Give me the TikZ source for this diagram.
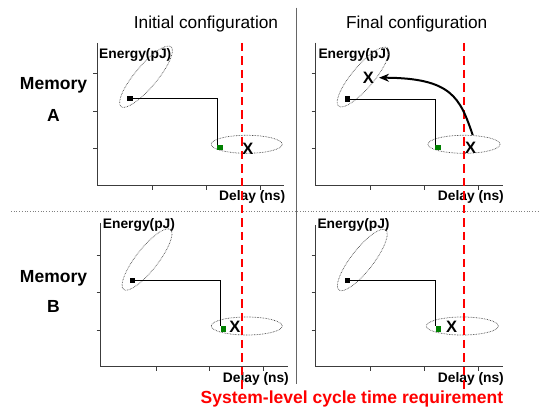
\documentclass[tikz,border=0pt]{standalone}
\usepackage{fontspec}
\setmainfont{Liberation Sans}
\usetikzlibrary{arrows.meta}
\definecolor{sqgreen}{RGB}{0,128,0}
\definecolor{reqred}{RGB}{255,0,0}
\definecolor{axisgray}{RGB}{60,60,60}
\tikzset{
  axisline/.style={draw=axisgray, line width=1.1pt},
  tickline/.style={draw=axisgray, line width=0.8pt},
  ell/.style={draw=gray!60!black, line width=0.7pt, dash pattern=on 0.7pt off 0.9pt},
  blacksq/.style={rectangle, fill=black, inner sep=0, minimum size=5.5pt},
  greensq/.style={rectangle, fill=sqgreen, inner sep=0, minimum size=5.5pt},
  steplink/.style={draw=black, line width=0.9pt},
  xmark/.style={inner sep=0, font=\fontsize{16.5}{16}\selectfont\bfseries},
  axlabel/.style={inner sep=0, anchor=base west, font=\fontsize{13.8}{14}\selectfont\bfseries},
  memlabel/.style={inner sep=0, anchor=base, font=\fontsize{17.5}{18}\selectfont\bfseries},
  title/.style={inner sep=0, anchor=base, font=\fontsize{17.3}{18}\selectfont},
  reqline/.style={draw=reqred, line width=2.2pt, dash pattern=on 8.5pt off 5pt},
  moveline/.style={draw=black, line width=2pt, -{Stealth[length=10pt,width=8pt]}}
}
\begin{document}
\begin{tikzpicture}[x=1pt,y=-1pt]
\useasboundingbox (0,0) rectangle (542,409);

% separators
\draw[draw=gray!80!black, line width=0.8pt] (296,7.6) -- (296,384);
\draw[draw=gray, dotted, line width=0.7pt] (11,211) -- (540,211);

% titles
\node[title] (t1) at (206,28.3) {Initial configuration};
\node[title] (t2) at (416.7,28.3) {Final configuration};

% memory labels
\node[memlabel] (ma1) at (53.5,89.3) {Memory};
\node[memlabel] (ma2) at (53.5,121.7) {A};
\node[memlabel] (mb1) at (53.5,282.7) {Memory};
\node[memlabel] (mb2) at (53.5,312.3) {B};

% ---------- top-left ----------
\draw[axisline] (97.3,43) -- (97.3,185.7) -- (284,185.7);
\foreach \yy in {73.3,111,148.3} \draw[tickline] (93.3,\yy) -- (97.3,\yy);
\foreach \xx in {152.3,206,260.3} \draw[tickline] (\xx,185.7) -- (\xx,189.7);
\node[axlabel] (e1) at (99,58.3) {Energy(pJ)};
\node[axlabel] (d1) at (219,200.7) {Delay (ns)};
\draw[ell, rotate around={50:(146,76.7)}] (146,76.7) ellipse [x radius=39pt, y radius=11pt];
\draw[ell] (246.7,144.3) ellipse [x radius=35.5pt, y radius=9pt];
\node[blacksq] (b1) at (130,98.7) {};
\node[greensq] (g1) at (220,147.5) {};
\draw[steplink] (b1.center) -| (g1.north west);
\node[xmark] (x1) at (248,148.7) {X};

% ---------- top-right ----------
\draw[axisline] (315.7,42.7) -- (315.7,185.7) -- (503,185.7);
\foreach \yy in {73.3,111,148.3} \draw[tickline] (311.7,\yy) -- (315.7,\yy);
\foreach \xx in {370.3,424.3,478.3} \draw[tickline] (\xx,185.7) -- (\xx,189.7);
\node[axlabel] (e2) at (318.3,58.3) {Energy(pJ)};
\node[axlabel] (d2) at (437.7,200.3) {Delay (ns)};
\draw[ell, rotate around={50:(363,77)}] (363,77) ellipse [x radius=38pt, y radius=11pt];
\draw[ell] (464,144.3) ellipse [x radius=36pt, y radius=9pt];
\node[blacksq] (b2) at (347.7,99) {};
\node[greensq] (g2) at (438,147.5) {};
\draw[steplink] (b2.center) -| (g2.north west);
\node[xmark] (x2) at (470.7,147.7) {X};
\node[xmark] (x2u) at (368.3,77.7) {X};

% ---------- bottom-left ----------
\draw[axisline] (100.7,223) -- (100.7,366.7) -- (288,366.7);
\foreach \yy in {255,292.7,330} \draw[tickline] (96.7,\yy) -- (100.7,\yy);
\foreach \xx in {156,209,263} \draw[tickline] (\xx,366.7) -- (\xx,370.7);
\node[axlabel] (e3) at (102.7,228.3) {Energy(pJ)};
\node[axlabel] (d3) at (222.7,382.3) {Delay (ns)};
\draw[ell, rotate around={52:(147,259.5)}] (147,259.5) ellipse [x radius=38pt, y radius=11pt];
\draw[ell] (246.7,326) ellipse [x radius=35.5pt, y radius=9pt];
\node[blacksq] (b3) at (132.3,280.3) {};
\node[greensq] (g3) at (223.3,329) {};
\draw[steplink] (b3.center) -| (g3.north west);
\node[xmark] (x3) at (235,327.3) {X};

% ---------- bottom-right ----------
\draw[axisline] (315.7,225) -- (315.7,366.7) -- (502.7,366.7);
\foreach \yy in {255,292.7,330} \draw[tickline] (311.7,\yy) -- (315.7,\yy);
\foreach \xx in {370.3,424.3,478.3} \draw[tickline] (\xx,366.7) -- (\xx,370.7);
\node[axlabel] (e4) at (317.3,228.3) {Energy(pJ)};
\node[axlabel] (d4) at (437.7,382.3) {Delay (ns)};
\draw[ell, rotate around={52:(362.3,260)}] (362.3,260) ellipse [x radius=38pt, y radius=11pt];
\draw[ell] (462.3,326) ellipse [x radius=36pt, y radius=9pt];
\node[blacksq] (b4) at (347.7,280.3) {};
\node[greensq] (g4) at (438.3,329) {};
\draw[steplink] (b4.center) -| (g4.north west);
\node[xmark] (x4) at (451.7,327.3) {X};

% requirement lines
\draw[reqline] (242.3,43) -- (242.3,390);
\draw[reqline] (463.7,43) -- (463.7,390);

% move arrow
\coordinate (arrstart) at (472.7,135);
\draw[moveline] (arrstart) .. controls (460,98) and (452,78) .. ([xshift=5pt]x2u.east);

% requirement label
\node[inner sep=0, anchor=base, text=reqred, font=\fontsize{17.5}{18}\selectfont\bfseries] (req) at (352,403.3) {System-level cycle time requirement};
\end{tikzpicture}
\end{document}
